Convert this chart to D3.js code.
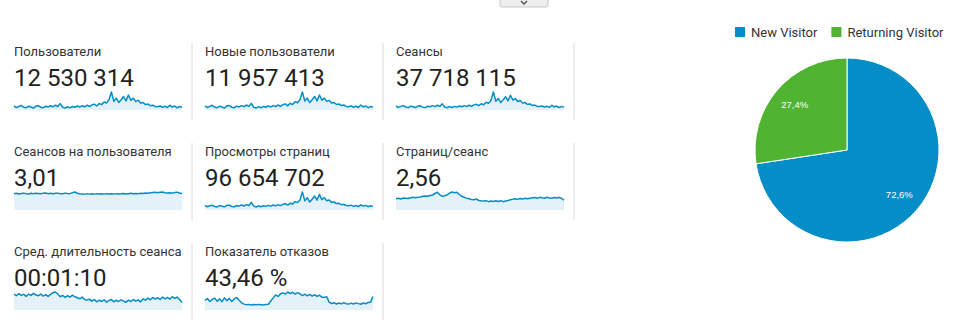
<!DOCTYPE html>
<html>
<head>
<meta charset="utf-8">
<script src="https://cdn.jsdelivr.net/npm/d3@7/dist/d3.min.js"></script>
<style>
  body { margin: 0; background: #fff; }
  svg { display: block; font-family: Roboto, "Noto Sans", sans-serif; }
</style>
</head>
<body>
<svg id="chart" width="956" height="326"></svg>
<script>
// metric tiles
const metricNames = [
  "Пользователи", "Новые пользователи", "Сеансы",
  "Сеансов на пользователя", "Просмотры страниц", "Страниц/сеанс",
  "Сред. длительность сеанса", "Показатель отказов"
];
const metricTotals = [
  "12 530 314", "11 957 413", "37 718 115",
  "3,01", "96 654 702", "2,56",
  "00:01:10", "43,46 %"
];

// sparkline series
const users = [63,57,61,65,58,56,62,59,55,63,64,58,56,62,59,64,60,66,61,72,58,55,60,56,61,58,63,59,64,60,66,61,67,70,63,72,68,78,74,86,115,80,92,76,86,98,82,104,84,92,80,84,74,76,68,70,64,66,61,60,63,58,62,57,66,59,63,56,61,58];
const newUsers = [60,54,58,62,55,53,59,56,52,60,61,55,53,59,56,61,57,63,58,69,55,52,57,53,58,55,60,56,61,57,63,58,64,67,60,69,65,75,71,82,110,77,88,72,82,94,78,99,80,88,76,80,70,72,65,67,61,63,58,57,60,55,59,54,63,56,60,53,58,55];
const sessions = [182,168,178,186,172,165,180,174,166,182,184,170,166,180,174,186,176,190,178,205,172,164,176,166,178,170,182,174,186,176,190,178,194,200,186,206,196,222,212,240,330,232,262,218,246,280,236,296,244,262,230,240,214,218,200,204,188,192,178,176,182,170,180,168,190,172,182,166,178,170];
const sessionsPerUser = [3.00,3.02,2.98,3.01,3.03,2.99,2.98,3.02,3.00,3.03,3.01,2.99,3.03,3.04,3.00,3.02,2.99,3.02,3.03,3.00,2.99,3.03,3.01,3.00,3.06,3.10,3.02,2.99,2.98,2.97,3.00,2.97,2.99,2.97,3.00,2.98,2.99,2.97,3.00,2.98,2.99,2.97,3.00,2.98,2.99,3.01,2.98,3.00,3.02,2.99,3.01,3.00,3.03,3.01,3.04,3.02,3.05,3.07,3.09,3.05,3.08,3.10,3.06,3.04,3.06,3.03,3.07,3.09,3.04,3.01];
const pageviews = [462,432,458,470,438,426,460,446,430,466,470,438,428,462,446,474,450,484,458,540,446,424,452,430,458,440,466,448,476,452,484,458,492,506,474,520,500,560,536,600,800,580,660,548,620,700,596,740,610,660,580,600,540,550,510,516,484,492,462,458,470,440,462,434,480,446,466,432,458,440];
const pagesPerSession = [2.48,2.51,2.46,2.52,2.51,2.49,2.54,2.56,2.53,2.57,2.58,2.63,2.64,2.62,2.67,2.70,2.79,2.87,2.71,2.63,2.66,2.71,2.81,2.88,2.83,2.86,2.73,2.62,2.57,2.50,2.47,2.43,2.41,2.46,2.37,2.35,2.34,2.36,2.30,2.34,2.31,2.35,2.31,2.36,2.30,2.34,2.37,2.41,2.44,2.48,2.45,2.49,2.46,2.50,2.47,2.51,2.53,2.55,2.50,2.56,2.53,2.51,2.56,2.52,2.50,2.55,2.52,2.56,2.49,2.39];
const avgDuration = [77,72,78,73,76,70,77,73,79,74,72,77,71,75,70,76,81,83,77,69,73,67,72,68,74,69,66,63,68,61,59,62,56,61,54,59,55,60,53,58,61,54,59,55,60,56,53,59,55,61,56,60,54,63,59,65,60,67,62,66,61,68,63,67,62,69,64,68,61,52];
const bounceRate = [42.5,44.0,41.6,43.4,44.3,41.8,43.7,41.5,44.5,42.3,44.1,41.7,43.6,44.8,42.6,40.8,39.6,39.2,39.4,39.0,39.3,39.1,39.4,39.2,39.0,39.3,39.5,42.0,44.5,46.8,45.6,47.7,48.4,47.5,49.1,47.9,48.9,47.4,48.6,47.7,46.3,47.4,46.1,47.2,45.9,47.0,45.7,46.6,45.0,44.9,45.4,41.2,40.1,40.7,39.7,40.5,39.8,40.8,39.9,39.6,40.4,39.7,40.6,40.0,39.5,40.5,39.9,40.9,41.2,45.5];
const series = [users, newUsers, sessions, sessionsPerUser, pageviews, pagesPerSession, avgDuration, bounceRate];
// lower bound of each sparkline's y domain
const sparkFloor = [48, 45, 140, 2.0, 350, 1.8, 30, 35];

// pie
const visitorTypes = ["New Visitor", "Returning Visitor"];
const visitorShares = [72.6, 27.4];
const visitorColors = ["#058dc7", "#50b432"];

const svg = d3.select("#chart");

// layout
const tileW = 191, rowH = 100, top0 = 43;
const padL = 14, sparkW = 168, sparkTop = 49, sparkBottom = 67;

// little toggle button at the top
const btn = svg.append("g").attr("transform", "translate(500,0)");
btn.append("rect")
  .attr("x", 0).attr("y", -4).attr("width", 48).attr("height", 11).attr("rx", 2)
  .attr("fill", "#eeeeee").attr("stroke", "#c8c8c8");
btn.append("path")
  .attr("d", "M21,1 L24,4 L27,1")
  .attr("fill", "none").attr("stroke", "#555").attr("stroke-width", 1.5);

const tileData = metricNames.map((name, i) => ({
  name, i, total: metricTotals[i], values: series[i], floor: sparkFloor[i]
}));

const tiles = svg.selectAll("g.tile")
  .data(tileData)
  .join("g")
    .attr("class", "tile")
    .attr("transform", d => `translate(${(d.i % 3) * tileW},${top0 + Math.floor(d.i / 3) * rowH})`);

tiles.append("line")
  .attr("x1", tileW + 1).attr("x2", tileW + 1)
  .attr("y1", 0).attr("y2", 77)
  .attr("stroke", "#dcdcdc");

tiles.append("text")
  .attr("x", padL).attr("y", 13)
  .attr("font-size", 13)
  .attr("fill", "#333")
  .text(d => d.name);

tiles.append("text")
  .attr("x", padL).attr("y", 42.5)
  .attr("font-size", 24)
  .attr("fill", "#222")
  .text(d => d.total);

tiles.each(function(d) {
  const g = d3.select(this);
  const x = d3.scaleLinear().domain([0, d.values.length - 1]).range([padL, padL + sparkW]);
  const y = d3.scaleLinear().domain([d.floor, d3.max(d.values)]).range([sparkBottom, sparkTop]);

  g.append("path")
    .datum(d.values)
    .attr("fill", "#e4f1f9")
    .attr("d", d3.area().x((v, j) => x(j)).y0(sparkBottom).y1(v => y(v)));

  g.append("path")
    .datum(d.values)
    .attr("fill", "none")
    .attr("stroke", "#058dc7")
    .attr("stroke-width", 1.5)
    .attr("stroke-linejoin", "round")
    .attr("d", d3.line().x((v, j) => x(j)).y(v => y(v)));
});

// pie chart
const cx = 847, cy = 150, R = 92;
const arcs = d3.pie().sort(null).value(d => d)(visitorShares);
const arc = d3.arc().innerRadius(0).outerRadius(R);
const labelArc = d3.arc().innerRadius(R * 0.75).outerRadius(R * 0.75);

const pieG = svg.append("g").attr("transform", `translate(${cx},${cy})`);
pieG.selectAll("path")
  .data(arcs)
  .join("path")
    .attr("fill", (d, i) => visitorColors[i])
    .attr("stroke", "#fff")
    .attr("stroke-width", 1)
    .attr("d", arc);

pieG.selectAll("text")
  .data(arcs)
  .join("text")
    .attr("transform", d => `translate(${labelArc.centroid(d)})`)
    .attr("text-anchor", "middle")
    .attr("dy", "0.35em")
    .attr("font-family", "Arial, 'Liberation Sans', sans-serif")
    .attr("font-size", 9.5)
    .attr("fill", "#fff")
    .text(d => d3.format(".1f")(d.data).replace(".", ",") + "%");

// legend
const legend = svg.append("g").attr("transform", "translate(735,27)");
let lx = 0;
visitorTypes.forEach((name, i) => {
  const item = legend.append("g").attr("transform", `translate(${lx},0)`);
  item.append("rect").attr("width", 10).attr("height", 10).attr("fill", visitorColors[i]);
  const t = item.append("text")
    .attr("x", 16).attr("y", 9.5)
    .attr("font-size", 13)
    .attr("fill", "#333")
    .text(name);
  lx += 16 + t.node().getComputedTextLength() + 14;
});
</script>
</body>
</html>
